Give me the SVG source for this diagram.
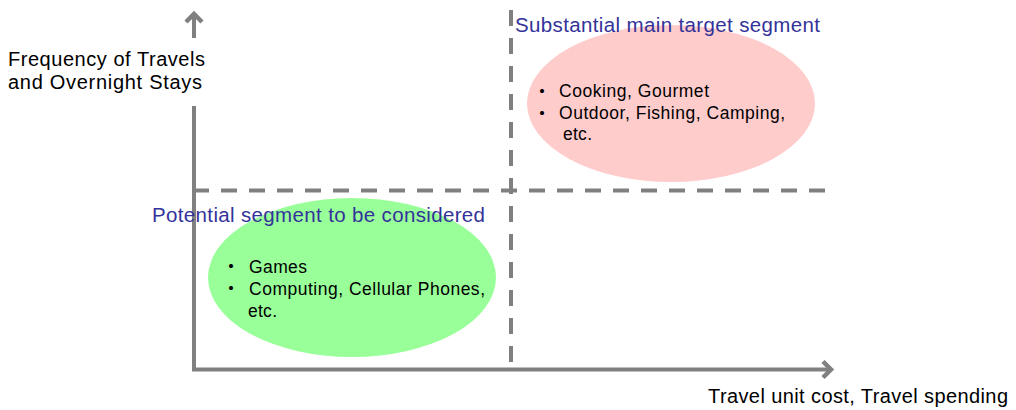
<svg xmlns="http://www.w3.org/2000/svg" width="1016" height="410" viewBox="0 0 1016 410">
<style>
.ax{stroke:#808080;stroke-width:4;fill:none}
.dash{stroke:#808080;stroke-width:4;fill:none;stroke-dasharray:16 12}
.hd{stroke:#808080;stroke-width:4.5;fill:none;stroke-linejoin:miter}
.lbl{font-family:"Liberation Sans",Arial,sans-serif;font-size:20px;fill:#000}
.seg{font-family:"Liberation Sans",Arial,sans-serif;font-size:20.5px;fill:#333399}
.item{font-family:"Liberation Sans",Arial,sans-serif;font-size:17.5px;fill:#000}
.bul{font-family:"Noto Sans CJK JP",sans-serif;font-size:16px;font-weight:bold;fill:#000}
</style>
<rect width="1016" height="410" fill="#fff"/>
<g id="connectors">
<line class="dash" x1="193" y1="190.5" x2="826" y2="190.5"/>
<line class="dash" x1="511" y1="10" x2="511" y2="364"/>
<line class="ax" x1="194" y1="14" x2="194" y2="38"/>
<polyline class="hd" points="186,22 194,14 202,22"/>
<line class="ax" x1="194" y1="106" x2="194" y2="369.5"/>
<line class="ax" x1="192" y1="369.5" x2="830" y2="369.5"/>
<polyline class="hd" points="823,361.5 831,369.5 823,377.5"/>
</g>
<g id="node-main-target">
<ellipse cx="671" cy="103.5" rx="144" ry="78.5" fill="#ffcccc"/>
<text class="bul" x="534" y="97">・</text>
<text class="item" x="559" y="97" textLength="150" lengthAdjust="spacing">Cooking, Gourmet</text>
<text class="bul" x="534" y="119">・</text>
<text class="item" x="559" y="119" textLength="226" lengthAdjust="spacing">Outdoor, Fishing, Camping,</text>
<text class="item" x="563" y="140" textLength="29" lengthAdjust="spacing">etc.</text>
</g>
<g id="node-potential">
<ellipse cx="352" cy="277.5" rx="144" ry="79.5" fill="#99ff99"/>
<text class="bul" x="223" y="272">・</text>
<text class="item" x="249" y="273" textLength="58" lengthAdjust="spacing">Games</text>
<text class="bul" x="223" y="294">・</text>
<text class="item" x="249" y="295" textLength="236" lengthAdjust="spacing">Computing, Cellular Phones,</text>
<text class="item" x="248" y="317" textLength="29" lengthAdjust="spacing">etc.</text>
</g>
<g id="label-main-target">
<text class="seg" x="515" y="32" textLength="305" lengthAdjust="spacing">Substantial main target segment</text>
</g>
<g id="label-potential">
<text class="seg" x="152" y="222" textLength="333" lengthAdjust="spacing">Potential segment to be considered</text>
</g>
<g id="label-y-axis">
<text class="lbl" x="8" y="66" textLength="197" lengthAdjust="spacing">Frequency of Travels</text>
<text class="lbl" x="8" y="89" textLength="194" lengthAdjust="spacing">and Overnight Stays</text>
</g>
<g id="label-x-axis">
<text class="lbl" x="708" y="403" textLength="300" lengthAdjust="spacing">Travel unit cost, Travel spending</text>
</g>
</svg>
